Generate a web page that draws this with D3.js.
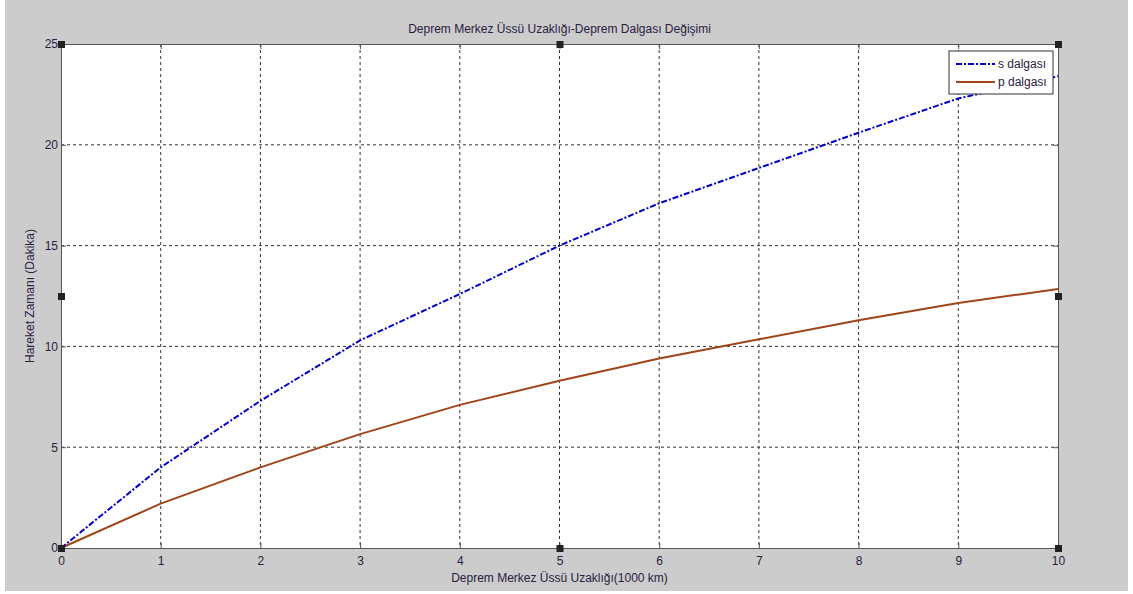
<!DOCTYPE html>
<html>
<head>
<meta charset="utf-8">
<script src="https://cdn.jsdelivr.net/npm/d3@7"></script>
<style>
    body { margin: 0; background: #fff; }
    text { font-family: "Liberation Sans", Arial, sans-serif; font-size: 12px; fill: #2a2040; }
    .grid line { stroke: #333; stroke-dasharray: 3, 3; }
</style>
</head>
<body>
<svg id="chart" width="1133" height="594"></svg>
<script>
const distances = [0, 1, 2, 3, 4, 5, 6, 7, 8, 9, 10]
const sWave = [0, 4.0, 7.3, 10.3, 12.6, 15.0, 17.1, 18.85, 20.6, 22.3, 23.4]
const pWave = [0, 2.2, 4.0, 5.65, 7.1, 8.3, 9.4, 10.35, 11.3, 12.15, 12.85]
const xTicks = [0, 1, 2, 3, 4, 5, 6, 7, 8, 9, 10]
const yTicks = [0, 5, 10, 15, 20, 25]
const seriesNames = ["s dalgası", "p dalgası"]

const svg = d3.select("#chart")
// grey figure background
svg.append("rect").attr("x", 5).attr("y", 0).attr("width", 1123).attr("height", 591).attr("fill", "#cccccc")

const plotL = 61, plotR = 1058, plotT = 44, plotB = 548
const x = d3.scaleLinear().domain([0, 10]).range([plotL, plotR])
const y = d3.scaleLinear().domain([0, 25]).range([plotB, plotT])

svg.append("rect").attr("x", plotL).attr("y", plotT)
    .attr("width", plotR - plotL).attr("height", plotB - plotT).attr("fill", "#fff")

// grid
const grid = svg.append("g").classed("grid", true)
grid.selectAll("line.gx").data(xTicks.slice(1, -1)).enter().append("line")
    .attr("x1", d => x(d)).attr("x2", d => x(d)).attr("y1", plotT).attr("y2", plotB)
grid.selectAll("line.gy").data(yTicks.slice(1, -1)).enter().append("line")
    .attr("y1", d => y(d)).attr("y2", d => y(d)).attr("x1", plotL).attr("x2", plotR)

// axes (ticks inward, both sides)
const tick = 5
svg.append("g").attr("transform", `translate(0,${plotB})`)
    .call(d3.axisBottom(x).tickValues(xTicks).tickSize(-tick).tickPadding(8))
svg.append("g").attr("transform", `translate(0,${plotT})`)
    .call(d3.axisTop(x).tickValues(xTicks).tickSize(-tick).tickFormat(""))
svg.append("g").attr("transform", `translate(${plotL},0)`)
    .call(d3.axisLeft(y).tickValues(yTicks).tickSize(-tick).tickPadding(3))
svg.append("g").attr("transform", `translate(${plotR},0)`)
    .call(d3.axisRight(y).tickValues(yTicks).tickSize(-tick).tickFormat(""))
svg.selectAll(".domain").attr("stroke", "#555")
svg.selectAll(".tick line").attr("stroke", "#555")
svg.selectAll(".tick text").attr("font-size", 12).attr("font-family", "'Liberation Sans', Arial, sans-serif").attr("fill", "#2a2040")

// lines
const line = d3.line().x((d, i) => x(distances[i])).y(d => y(d))
svg.append("path").datum(pWave).attr("d", line)
    .attr("fill", "none").attr("stroke", "#a0441a").attr("stroke-width", 2)
svg.append("path").datum(sWave).attr("d", line)
    .attr("fill", "none").attr("stroke", "#0000cc").attr("stroke-width", 2)
    .attr("stroke-dasharray", "6,2,2,2")

// titles
svg.append("text").attr("x", (plotL + plotR) / 2).attr("y", 33).attr("text-anchor", "middle")
    .text("Deprem Merkez Üssü Uzaklığı-Deprem Dalgası Değişimi")
svg.append("text").attr("x", (plotL + plotR) / 2).attr("y", 582).attr("text-anchor", "middle")
    .text("Deprem Merkez Üssü Uzaklığı(1000 km)")
svg.append("text").attr("transform", `translate(34,${(plotT + plotB) / 2}) rotate(-90)`)
    .attr("text-anchor", "middle").text("Hareket Zamanı (Dakika)")

// legend
const lg = svg.append("g").attr("transform", "translate(949,51)")
lg.append("rect").attr("width", 104).attr("height", 43).attr("fill", "#fff").attr("stroke", "#333")
const legendStyles = [{ c: "#0000cc", dash: "6,2,2,2" }, { c: "#a0441a", dash: null }]
seriesNames.forEach((name, i) => {
    const yy = 13 + i * 18
    lg.append("line").attr("x1", 7).attr("x2", 46).attr("y1", yy).attr("y2", yy)
        .attr("stroke", legendStyles[i].c).attr("stroke-width", 2)
        .attr("stroke-dasharray", legendStyles[i].dash)
    lg.append("text").attr("x", 49).attr("y", yy + 4).text(name)
})

// selection handles (MATLAB edit mode)
const handles = [[0, 25], [5, 25], [10, 25], [0, 12.5], [10, 12.5], [0, 0], [5, 0], [10, 0]]
svg.selectAll("rect.handle").data(handles).enter().append("rect")
    .attr("x", d => x(d[0]) - 3).attr("y", d => y(d[1]) - 3)
    .attr("width", 7).attr("height", 7).attr("fill", "#222")
</script>
</body>
</html>
